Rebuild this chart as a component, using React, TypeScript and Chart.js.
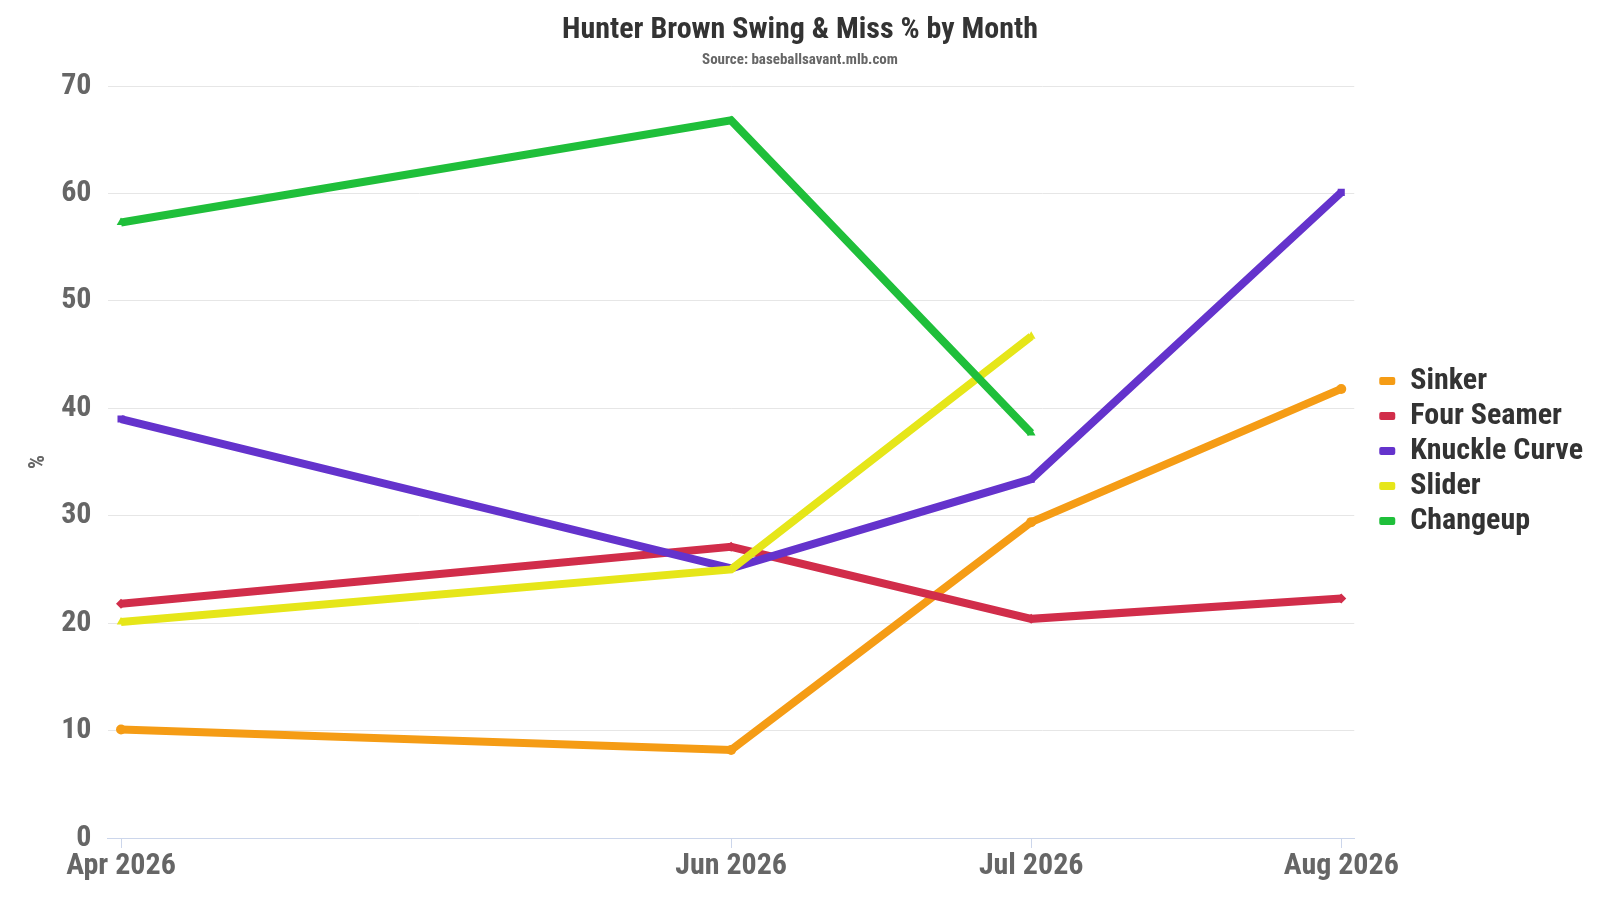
import { useEffect, useRef } from "react";
import Chart from "chart.js/auto";

const months = ["2026-04-01", "2026-06-01", "2026-07-01", "2026-08-01"];
const monthLabels = ["Apr 2026", "Jun 2026", "Jul 2026", "Aug 2026"];

const sinker = [10.1, 8.2, 29.4, 41.8];
const fourSeamer = [21.8, 27.1, 20.4, 22.3];
const knuckleCurve = [39.0, 25.1, 33.4, 60.1];
const slider = [20.1, 25.0, 46.7, null];
const changeup = [57.3, 66.8, 37.7, null];

const yTicks = [0, 10, 20, 30, 40, 50, 60, 70];

const FONT = "'Roboto Condensed', 'Liberation Sans Narrow', 'DejaVu Sans Condensed', Roboto, sans-serif";

const dayOf = (d: string) => (Date.parse(d) - Date.parse(months[0])) / 86400000;
const days = months.map(dayOf);

// nudge the legend away from the plot area
const legendShift = {
  id: "legendShift",
  afterLayout(chart: Chart) {
    const lg = chart.legend;
    if (!lg) return;
    lg.left += 20;
    lg.right += 20;
    lg.top += 9;
    lg.bottom += 9;
  },
};

export default function App() {
  const chartRef = useRef<HTMLCanvasElement>(null);

  useEffect(() => {
    if (!chartRef.current) return;
    const ctx = chartRef.current.getContext("2d");
    if (!ctx) return;

    const series = [
      { label: "Sinker", data: sinker, color: "#f59c15", style: "circle" },
      { label: "Four Seamer", data: fourSeamer, color: "#d12d4a", style: "rectRot" },
      { label: "Knuckle Curve", data: knuckleCurve, color: "#6433cc", style: "rect" },
      { label: "Slider", data: slider, color: "#e6e619", style: "triangle" },
      { label: "Changeup", data: changeup, color: "#1fbf3a", style: "triangle" },
    ];

    const baseLabels = Chart.defaults.plugins.legend.labels.generateLabels;

    const myChart = new Chart(ctx, {
      type: "line",
      plugins: [legendShift],
      data: {
        datasets: series.map((s, i) => ({
          label: s.label,
          data: s.data.map((v, j) => ({ x: days[j], y: v })),
          borderColor: s.color,
          backgroundColor: s.color,
          borderWidth: 8,
          pointRadius: 5,
          pointStyle: s.style,
          pointBorderWidth: 0,
          order: series.length - i,
          tension: 0,
        })),
      },
      options: {
        animation: false,
        responsive: false,
        layout: { padding: { left: 0, right: 0, top: 0, bottom: 16 } },
        plugins: {
          title: {
            display: true,
            text: "Hunter Brown Swing & Miss % by Month",
            color: "#333333",
            font: { family: FONT, size: 30, weight: "bold" },
            padding: { top: 12, bottom: 3 },
          },
          subtitle: {
            display: true,
            text: "Source: baseballsavant.mlb.com",
            color: "#666666",
            font: { family: FONT, size: 15, weight: "bold" },
            padding: { top: 0, bottom: 17 },
          },
          legend: {
            position: "right",
            align: "center",
            labels: {
              boxWidth: 16,
              boxHeight: 8,
              useBorderRadius: true,
              borderRadius: 2,
              color: "#333333",
              padding: 5,
              font: { family: FONT, size: 30, weight: "bold" },
              generateLabels: (chart) =>
                baseLabels(chart).map((l) => ({ ...l, lineWidth: 0 })),
              sort: (a, b) => (a.datasetIndex ?? 0) - (b.datasetIndex ?? 0),
            },
          },
          tooltip: { enabled: false },
        },
        scales: {
          x: {
            type: "linear",
            min: days[0] - 1.35,
            max: days[days.length - 1] + 1.3,
            afterBuildTicks: (axis) => {
              axis.ticks = days.map((d) => ({ value: d }));
            },
            afterFit: (axis) => {
              const lg = axis.chart.legend;
              if (lg) axis.paddingRight = Math.max(axis.paddingRight, lg.width + 27);
            },
            ticks: {
              color: "#666666",
              font: { family: FONT, size: 30, weight: "bold" },
              maxRotation: 0,
              autoSkip: false,
              padding: 0,
              callback: (v) => {
                const i = days.indexOf(Number(v));
                return i >= 0 ? monthLabels[i] : "";
              },
            },
            grid: {
              drawOnChartArea: false,
              drawTicks: true,
              tickLength: 10,
              color: "#ccd6eb",
            },
            border: { color: "#ccd6eb", width: 1 },
          },
          y: {
            min: 0,
            max: 70,
            afterBuildTicks: (axis) => {
              axis.ticks = yTicks.map((v) => ({ value: v }));
            },
            title: {
              display: true,
              text: "%",
              color: "#666666",
              font: { family: FONT, size: 22, weight: "bold", lineHeight: 0.6 },
              padding: { top: 32, bottom: 0 },
            },
            ticks: {
              color: "#666666",
              font: { family: FONT, size: 30, weight: "bold" },
              padding: 16,
            },
            grid: { color: "#e6e6e6", drawTicks: false },
            border: { display: false },
          },
        },
      },
    });

    return () => {
      myChart.destroy();
    };
  }, []);

  return (
    <div style={{ position: "fixed", left: 0, top: 0, width: 1600, height: 900, background: "#fff" }}>
      <canvas ref={chartRef} width={1600} height={900} />
    </div>
  );
}
